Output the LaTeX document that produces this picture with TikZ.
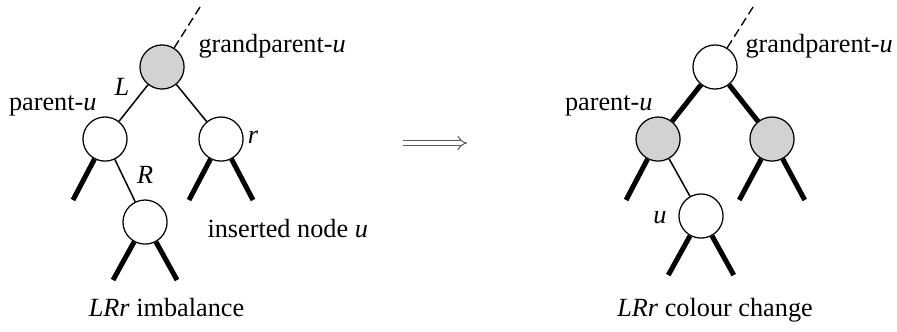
\documentclass[tikz,border=0pt]{standalone}
\usepackage{fontspec}
\setmainfont{Liberation Serif}
\usetikzlibrary{calc, positioning, arrows.meta}

\tikzset{
    vertex/.style={circle, draw, fill=white, minimum size=0.62cm, inner sep=0pt, line width=0.5pt},
    greyvertex/.style={vertex, fill=gray!35},
    link/.style={line width=0.6pt},
    subtree/.style={line width=2pt},
    uplink/.style={line width=0.55pt, dash pattern=on 3.5pt off 1.8pt},
    caption/.style={inner sep=0pt}
}

\begin{document}
\begin{tikzpicture}[>=latex, font=\fontsize{10.5}{12}\selectfont]
    \useasboundingbox (0,0) rectangle (12.61,4.654);

    % 1. Cây bên trái: mất cân bằng LRr
    \node[greyvertex] (gpA) at (2.278,3.712) {};
    \node[vertex] (parA) at (1.476,2.699) {};
    \node[vertex] (sibA) at (3.107,2.699) {};
    \node[vertex] (insA) at (2.039,1.532) {};
    \coordinate (upA) at (2.812,4.555);
    \coordinate (parAl) at (1.026,1.842);
    \coordinate (sibAl) at (2.657,1.842);
    \coordinate (sibAr) at (3.557,1.842);
    \coordinate (insAl) at (1.589,0.717);
    \coordinate (insAr) at (2.489,0.717);

    \draw[uplink] (gpA) -- (upA);
    \draw[link] (gpA) -- (parA);
    \draw[link] (gpA) -- (sibA);
    \draw[link] (parA) -- (insA);
    \draw[subtree] (parA) -- (parAl);
    \draw[subtree] (sibA) -- (sibAl);
    \draw[subtree] (sibA) -- (sibAr);
    \draw[subtree] (insA) -- (insAl);
    \draw[subtree] (insA) -- (insAr);

    \node[caption, anchor=base west] (gpAtxt) at (2.784,3.922) {grandparent-\textit{u}};
    \node[caption, anchor=base east] (parAtxt) at (1.364,3.107) {parent-\textit{u}};
    \node (Ltxt) at (1.715,3.430) {\textit{L}};
    \node (rtxt) at (3.557,2.727) {\textit{r}};
    \node (Rtxt) at (2.039,2.193) {\textit{R}};
    \node[caption, anchor=base west] (insAtxt) at (2.910,1.322) {inserted node \textit{u}};
    \node[caption, anchor=base] (capA) at (2.341,0.211) {\textit{LRr} imbalance};

    % 2. Mũi tên
    \coordinate (arrS) at (5.666,2.643);
    \coordinate (arrE) at (6.566,2.643);
    \draw[black!65, line width=0.4pt, double, double distance=1.6pt, -{Implies}] (arrS) -- (arrE);

    % 3. Cây bên phải: đổi màu
    \node[vertex] (gpB) at (10.052,3.712) {};
    \node[greyvertex] (parB) at (9.251,2.699) {};
    \node[greyvertex] (sibB) at (10.853,2.699) {};
    \node[vertex] (uB) at (9.855,1.617) {};
    \coordinate (upB) at (10.586,4.555);
    \coordinate (parBl) at (8.801,1.842);
    \coordinate (sibBl) at (10.393,1.842);
    \coordinate (sibBr) at (11.313,1.842);
    \coordinate (uBl) at (9.395,0.787);
    \coordinate (uBr) at (10.315,0.787);

    \draw[uplink] (gpB) -- (upB);
    \draw[subtree] (gpB) -- (parB);
    \draw[subtree] (gpB) -- (sibB);
    \draw[link] (parB) -- (uB);
    \draw[subtree] (parB) -- (parBl);
    \draw[subtree] (sibB) -- (sibBl);
    \draw[subtree] (sibB) -- (sibBr);
    \draw[subtree] (uB) -- (uBl);
    \draw[subtree] (uB) -- (uBr);

    \node[caption, anchor=base west] (gpBtxt) at (10.474,3.922) {grandparent-\textit{u}};
    \node[caption, anchor=base east] (parBtxt) at (9.180,3.107) {parent-\textit{u}};
    \node (utxt) at (9.279,1.589) {\textit{u}};
    \node[caption, anchor=base] (capB) at (10.052,0.211) {\textit{LRr} colour change};
\end{tikzpicture}
\end{document}
